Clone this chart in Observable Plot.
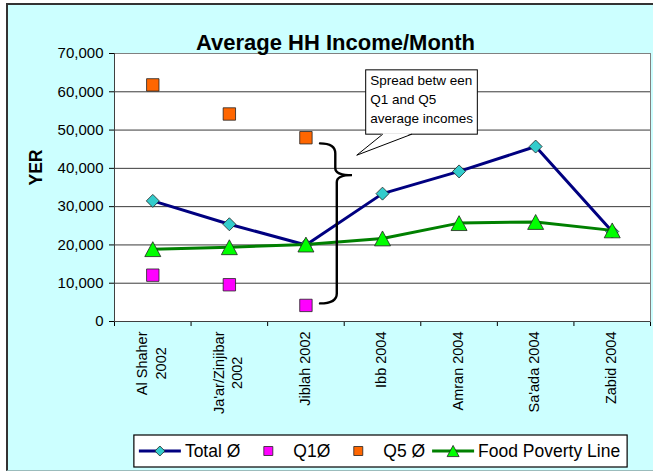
<!DOCTYPE html>
<html><head><meta charset="utf-8">
<script src="https://cdn.jsdelivr.net/npm/d3@7"></script>
<script src="https://cdn.jsdelivr.net/npm/@observablehq/plot@0.6"></script>
<style>
html,body{margin:0;padding:0;background:#fff;}
#wrap{position:relative;width:653px;height:472px;overflow:hidden;}
#bg{position:absolute;left:6px;top:3px;width:700px;height:468px;background:#ccffff;border-left:2px solid #333;border-top:2px solid #333;border-bottom:1px solid #9bbcbc;box-sizing:border-box;}
#chart{position:absolute;left:0;top:0;}
</style></head>
<body><div id="wrap"><div id="bg"></div><div id="chart"></div></div>
<script>
const FONT = "'Liberation Sans', Arial, Helvetica, sans-serif";

// ---- data ----
const categories = ["Al Shaher\n2002", "Ja'ar/Zinjibar\n2002", "Jiblah 2002", "Ibb 2004", "Amran 2004", "Sa'ada 2004", "Zabid 2004"];
const totalIncome = [31500, 25400, 20000, 33400, 39200, 45700, 23500];
const q1Income = [12100, 9600, 4200];
const q5Income = [61800, 54200, 48000];
const foodPovertyLine = [18900, 19400, 20100, 21700, 25700, 26000, 23800];
const yTicks = [0, 10000, 20000, 30000, 40000, 50000, 60000, 70000];
const seriesNames = ["Total Ø", "Q1Ø", "Q5 Ø", "Food Poverty Line"];
const titleText = "Average HH Income/Month";
const yLabel = "YER";
const calloutLines = ["Spread betw een", "Q1 and Q5", "average incomes"];
// annotation anchors in data units (x = category index, y = YER)
const calloutBox = {x1: 2.787, x2: 4.245, y1: 48800, y2: 65600};
const calloutTail = {x: 2.67, y: 43300, base1: 3.01, base2: 3.39};
const brace = {hook: 2.19, spine: 2.39, tip: 2.608, top: 46400, mid: 38100, bottom: 4600};

// ---- colours ----
const NAVY = "#000080", TEAL = "#33cccc", MAGENTA = "#ff00ff", ORANGE = "#ff6600", GREEN = "#008000", LIME = "#00ff00";

// ---- symbols ----
const diamondSym = {draw(c, s) { const r = Math.sqrt(s / Math.PI); c.moveTo(0, -r); c.lineTo(r, 0); c.lineTo(0, r); c.lineTo(-r, 0); c.closePath(); }};
const squareSym = {draw(c, s) { const r = Math.sqrt(s / Math.PI); c.rect(-r, -r, 2 * r, 2 * r); }};
const triSym = {draw(c, s) { const r = Math.sqrt(s / Math.PI); const h = r * 0.93; c.moveTo(0, -h); c.lineTo(r, h); c.lineTo(-r, h); c.closePath(); }};

const totalData = totalIncome.map((v, i) => ({i, v}));
const q1Data = q1Income.map((v, i) => ({i, v}));
const q5Data = q5Income.map((v, i) => ({i, v}));
const foodData = foodPovertyLine.map((v, i) => ({i, v}));

const ctx = document.createElement("canvas").getContext("2d");

function xLabelMark(index, {x}, values, dims) {
  const fs = 14.5, lh = 18.3;
  const g = d3.create("svg:g").attr("font-family", FONT).attr("font-size", fs).attr("fill", "#000");
  ctx.font = `${fs}px ${FONT}`;
  const top = dims.height - dims.marginBottom + 10.5;
  categories.forEach((label, i) => {
    const lines = label.split("\n");
    const W = Math.max(...lines.map(l => ctx.measureText(l).width));
    lines.forEach((line, k) => {
      const cx = x(i) - 0.8 + (k - (lines.length - 1) / 2) * lh;
      g.append("text").attr("text-anchor", "middle").attr("dy", "0.35em")
        .attr("transform", `translate(${cx},${top + W / 2}) rotate(-90)`).text(line);
    });
  });
  return g.node();
}

function braceMark(index, {x, y}) {
  const hx = x(brace.hook), sx = x(brace.spine), px = x(brace.tip);
  const yt = y(brace.top), ym = y(brace.mid), yb = y(brace.bottom);
  const r = 10, rt = 7;
  const d = `M${hx},${yt} Q${sx},${yt} ${sx},${yt + r} L${sx},${ym - rt} Q${sx},${ym} ${px},${ym} ` +
            `Q${sx + 1.5},${ym} ${sx + 1.5},${ym + rt} L${sx + 1.5},${yb - r} Q${sx + 1.5},${yb} ${hx},${yb}`;
  return d3.create("svg:path").attr("d", d).attr("fill", "none").attr("stroke", "#000")
    .attr("stroke-width", 2.4).attr("stroke-linecap", "round").node();
}

function calloutMark(index, {x, y}) {
  const g = d3.create("svg:g");
  const bx1 = x(calloutBox.x1), bx2 = x(calloutBox.x2), by1 = y(calloutBox.y2), by2 = y(calloutBox.y1);
  g.append("rect").attr("x", bx1).attr("y", by1).attr("width", bx2 - bx1).attr("height", by2 - by1)
    .attr("fill", "white").attr("stroke", "#000").attr("stroke-width", 1);
  const tx = x(calloutTail.x), ty = y(calloutTail.y), b1 = x(calloutTail.base1), b2 = x(calloutTail.base2);
  g.append("path").attr("d", `M${b1},${by2 - 1}L${tx},${ty}L${b2},${by2 - 1}Z`).attr("fill", "white");
  g.append("path").attr("d", `M${b1},${by2}L${tx},${ty}L${b2},${by2}`).attr("fill", "none").attr("stroke", "#000").attr("stroke-width", 1);
  const t = g.append("g").attr("font-family", FONT).attr("font-size", 13.5).attr("fill", "#000").attr("text-anchor", "start");
  calloutLines.forEach((line, k) => {
    t.append("text").attr("x", bx1 + 4.5).attr("y", by1 + 10 + k * 19.2).attr("dy", "0.35em").text(line);
  });
  return g.node();
}

function legendMark(index, scales, values, dims) {
  const fs = 17.5;
  const g = d3.create("svg:g").attr("font-family", FONT).attr("font-size", fs).attr("fill", "#000");
  ctx.font = `${fs}px ${FONT}`;
  const entries = [
    {name: seriesNames[0], line: NAVY, sym: diamondSym, fill: TEAL, r: 5},
    {name: seriesNames[1], line: null, sym: squareSym, fill: MAGENTA, r: 4.5},
    {name: seriesNames[2], line: null, sym: squareSym, fill: ORANGE, r: 4.5},
    {name: seriesNames[3], line: GREEN, sym: triSym, fill: LIME, r: 6}
  ];
  const symW = 42, gapT = 4, gapE = 7, padL = 5, padR = 7;
  entries.forEach(e => e.w = ctx.measureText(e.name).width);
  const total = padL + padR + d3.sum(entries, e => symW + gapT + e.w) + gapE * (entries.length - 1);
  const cxFrame = (dims.marginLeft + dims.width - dims.marginRight) / 2 - 1.5;
  let x0 = cxFrame - total / 2;
  const yc = dims.height - dims.marginBottom + 130;
  g.append("rect").attr("x", x0).attr("y", yc - 16).attr("width", total).attr("height", 32)
    .attr("fill", "white").attr("stroke", "#000").attr("stroke-width", 1.2);
  let cx = x0 + padL;
  entries.forEach(e => {
    if (e.line) g.append("line").attr("x1", cx).attr("x2", cx + symW).attr("y1", yc).attr("y2", yc)
      .attr("stroke", e.line).attr("stroke-width", 3);
    const p = d3.path(); e.sym.draw(p, e.r * e.r * Math.PI);
    g.append("path").attr("d", p.toString()).attr("transform", `translate(${cx + symW / 2},${yc})`)
      .attr("fill", e.fill).attr("stroke", "#222").attr("stroke-width", 0.8);
    g.append("text").attr("x", cx + symW + gapT).attr("y", yc).attr("dy", "0.35em").attr("text-anchor", "start").text(e.name);
    cx += symW + gapT + e.w + gapE;
  });
  return g.node();
}

const n = categories.length;
const chart = Plot.plot({
  width: 653, height: 472,
  marginTop: 53, marginLeft: 114, marginRight: 3, marginBottom: 151,
  style: {background: "transparent", fontFamily: FONT, fontSize: "15px", color: "#000", overflow: "visible"},
  x: {domain: [-0.5, n - 0.5], ticks: d3.range(n + 1).map(k => k - 0.5), tickFormat: () => "", tickSize: 5, label: null},
  y: {domain: [0, 70000], ticks: yTicks, tickFormat: d3.format(","), tickSize: 5, tickPadding: 6, label: null},
  marks: [
    Plot.frame({fill: "white", stroke: "#808080"}),
    Plot.ruleY(yTicks.filter(t => t > 0 && t < 70000), {stroke: "#3a3a3a", strokeWidth: 1}),
    Plot.ruleY([0], {stroke: "#404040"}),
    Plot.ruleX([-0.5], {stroke: "#404040"}),
    Plot.line(totalData, {x: "i", y: "v", stroke: NAVY, strokeWidth: 3}),
    Plot.dot(totalData, {x: "i", y: "v", symbol: diamondSym, r: 6.5, fill: TEAL, stroke: "#222", strokeWidth: 0.8}),
    Plot.dot(q1Data, {x: "i", y: "v", symbol: squareSym, r: 6.2, fill: MAGENTA, stroke: "#222", strokeWidth: 0.8}),
    Plot.dot(q5Data, {x: "i", y: "v", symbol: squareSym, r: 6.2, fill: ORANGE, stroke: "#222", strokeWidth: 0.8}),
    Plot.line(foodData, {x: "i", y: "v", stroke: GREEN, strokeWidth: 3}),
    Plot.dot(foodData, {x: "i", y: "v", symbol: triSym, r: 8, fill: LIME, stroke: "#222", strokeWidth: 0.8}),
    braceMark,
    calloutMark,
    xLabelMark,
    legendMark,
    Plot.text([titleText], {text: d => d, frameAnchor: "top", dx: -47, dy: -19, fontSize: 22, fontWeight: "bold", fill: "#000"}),
    Plot.text([yLabel], {text: d => d, frameAnchor: "left", dx: -78, dy: -2, rotate: -90, fontSize: 17.5, fontWeight: "bold", fill: "#000"})
  ]
});
document.getElementById("chart").appendChild(chart);
</script>
</body></html>
